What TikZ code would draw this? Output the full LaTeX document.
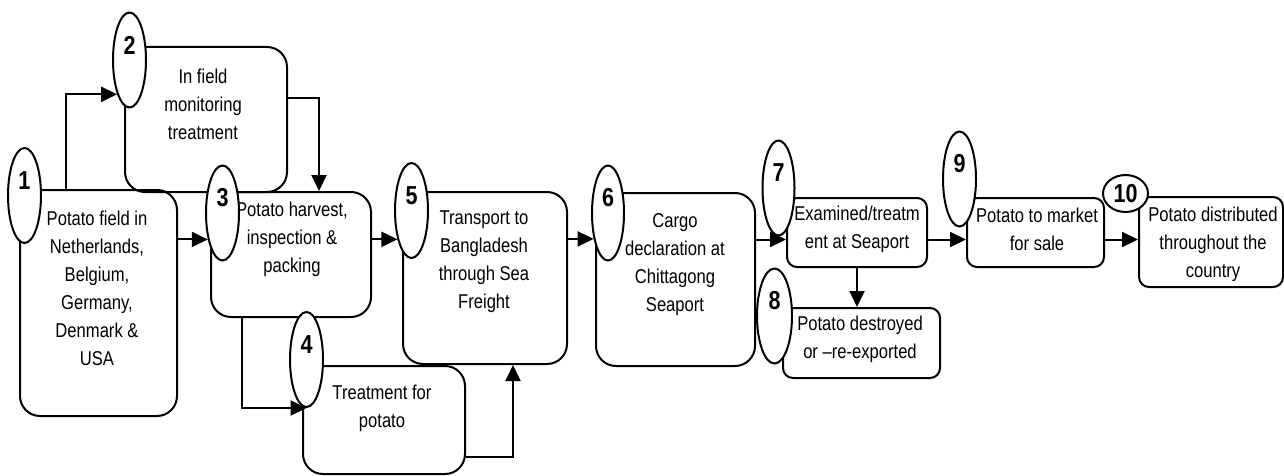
\documentclass[tikz,border=0pt]{standalone}
\usepackage{fontspec}
\setmainfont{Liberation Sans}[FakeStretch=0.83]
\usepackage{tikz}
\usetikzlibrary{shapes.geometric}
\usetikzlibrary{arrows.meta}

\begin{document}
\begin{tikzpicture}[x=1pt,y=-1pt,
    box/.style={draw, line width=2pt, rounded corners=20pt, inner sep=0pt},
    sbox/.style={box, rounded corners=10pt},
    num/.style={draw, fill=white, ellipse, line width=2pt, inner sep=0pt,
      minimum width=33pt, minimum height=95pt},
    lbl/.style={align=center, inner sep=0pt, font=\fontsize{20}{28}\selectfont},
    digit/.style={inner sep=0pt, font=\fontsize{26}{26}\selectfont\bfseries},
    arr/.style={line width=2pt, -{Triangle[length=16pt,width=15pt]}}]
  \useasboundingbox (0,0) rectangle (1284,476);

  \node [box, minimum width=157pt, minimum height=226pt] (b1) at (98.5,303) {};
  \node [box, minimum width=162pt, minimum height=145pt] (b2) at (206,119.5) {};
  \node [box, minimum width=160pt, minimum height=125pt] (b3) at (291,254.5) {};
  \node [box, minimum width=162pt, minimum height=108pt] (b4) at (384,420) {};
  \node [box, minimum width=164pt, minimum height=172pt] (b5) at (485,278) {};
  \node [box, minimum width=159pt, minimum height=173pt] (b6) at (675.5,279.5) {};
  \node [sbox, minimum width=140pt, minimum height=69pt] (b7) at (857,232.5) {};
  \node [sbox, minimum width=157pt, minimum height=70pt] (b8) at (861.5,343) {};
  \node [sbox, minimum width=137pt, minimum height=69pt] (b9) at (1035.5,232.5) {};
  \node [sbox, minimum width=144pt, minimum height=90pt] (b10) at (1211,242) {};

  \node [lbl] (t1) at (97,288) {Potato field in\\Netherlands,\\Belgium,\\Germany,\\Denmark \&\\USA};
  \node [lbl] (t2) at (203,104) {In field\\monitoring\\treatment};
  \node [lbl] (t3) at (292,239) {Potato harvest,\\inspection \&\\packing};
  \node [lbl] (t4) at (382,408) {Treatment for\\potato};
  \node [lbl] (t5) at (484,262) {Transport to\\Bangladesh\\through Sea\\Freight};
  \node [lbl] (t6) at (675,265) {Cargo\\declaration at\\Chittagong\\Seaport};
  \node [lbl] (t7) at (857,229) {Examined/treatm\\ent at Seaport};
  \node [lbl] (t8) at (860,339) {Potato destroyed\\or --re-exported};
  \node [lbl] (t9) at (1037,229) {Potato to market\\for sale};
  \node [lbl] (t10) at (1213,244) {Potato distributed\\throughout the\\country};

  \node [num] (e1) at (24.5,195.5) {};
  \node [num] (e2) at (129.5,60) {};
  \node [num] (e3) at (222.5,213) {};
  \node [num] (e4) at (306.5,359.5) {};
  \node [num] (e5) at (411.5,210.5) {};
  \node [num, minimum width=32pt] (e6) at (608,213) {};
  \node [num, minimum width=32pt] (e7) at (778.5,188) {};
  \node [num, minimum width=35pt] (e8) at (774.5,316) {};
  \node [num] (e9) at (959.5,179) {};
  \node [num, minimum width=45pt, minimum height=37pt] (e10) at (1125.5,193.5) {};

  \draw [arr] ([xshift=47pt]b1.north west) |- (e2.south west);
  \draw [arr] ([yshift=21pt]b2.east) -| ([xshift=28pt]b3.north);
  \draw [arr] (b1.east |- e3.241) -- (e3.241);
  \draw [arr] ([xshift=32pt]b3.south west) |- (e4.south);
  \draw [arr] (b3.east |- e5.244) -- (e5.244);
  \draw [arr] ([yshift=-37pt]b4.east) -| ([xshift=28pt]b5.south);
  \draw [arr] (b5.east |- e6.241) -- (e6.241);
  \draw [arr] (b6.east |- b7.west) ++(0,7) -- ([yshift=-7pt]b7.west);
  \draw [arr] (b7.south) -- (b7.south |- b8.north);
  \draw [arr] ([yshift=-7pt]b7.east) -- ([yshift=-7pt]b9.west);
  \draw [arr] ([yshift=-7pt]b9.east) -- ([yshift=-7pt]b9.east -| b10.west);

  \foreach \i in {1,...,9} {
    \node [digit] (n\i) at ([yshift=15pt]e\i.center) {\i};
  }
  \node [digit] (n10) at (e10.center) {10};
\end{tikzpicture}
\end{document}
